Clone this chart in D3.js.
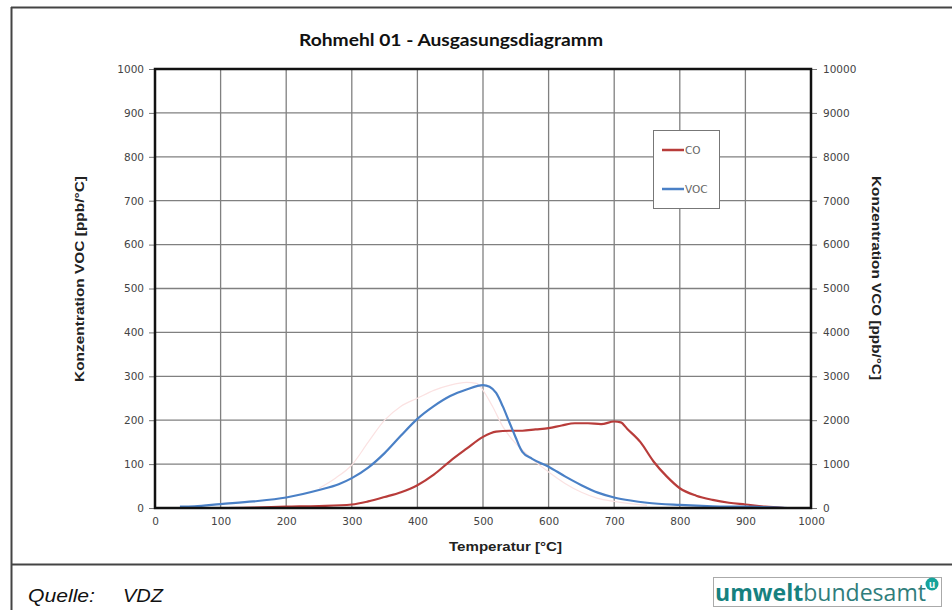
<!DOCTYPE html>
<head>
    <meta charset="utf-8">
    <script src="https://d3js.org/d3.v7.min.js"></script>
    <style>
        body { margin: 0; background: #fff; }
        text { font-family: "Liberation Sans", Arial, sans-serif; }
    </style>
</head>

<body>
    <div id="chart"></div>
</body>

<script>
    // temperature (°C) and readings
    const vocTemp = [38, 60, 100, 150, 200, 250, 280, 300, 325, 350, 375, 400, 425, 450, 475, 500, 510, 520, 530, 540, 550, 555, 560, 575, 600, 625, 650, 675, 700, 725, 750, 800, 850, 900, 950, 965];
    const vocVal  = [3, 4, 9, 15, 24, 41, 54, 68, 92, 125, 165, 203, 232, 255, 270, 280, 276, 262, 232, 196, 160, 142, 128, 112, 94, 72, 52, 35, 24, 17, 12, 7, 4, 3, 1, 0];

    const coTemp = [38, 100, 150, 200, 250, 300, 325, 350, 375, 400, 425, 450, 475, 500, 520, 540, 560, 580, 600, 620, 640, 660, 680, 700, 710, 720, 740, 760, 780, 800, 825, 850, 875, 900, 930, 960];
    const coVal  = [0, 0, 10, 30, 45, 80, 150, 250, 360, 520, 760, 1070, 1350, 1620, 1740, 1760, 1760, 1790, 1820, 1880, 1930, 1930, 1910, 1970, 1950, 1800, 1500, 1060, 720, 450, 280, 185, 120, 80, 30, 0];

    // faint trace visible behind the curves
    const ghostTemp = [250, 275, 300, 325, 350, 375, 400, 425, 450, 475, 490, 500, 515, 530, 545, 560, 580, 600, 625, 650, 675, 700, 750];
    const ghostVal  = [45, 68, 98, 150, 200, 232, 250, 268, 280, 286, 284, 268, 230, 186, 155, 132, 105, 82, 56, 36, 22, 15, 6];

    const yTicksLeft = d3.range(0, 1001, 100);
    const yTicksRight = d3.range(0, 10001, 1000);
    const xTicks = d3.range(0, 1001, 100);

    const W = 952, H = 610;
    const pL = 155, pR = 811, pT = 69, pB = 508;

    const svg = d3.select("#chart").append("svg")
        .attr("width", W).attr("height", H);

    // outer frame
    const frame = svg.append("g").attr("stroke", "#444").attr("stroke-width", 2);
    frame.append("line").attr("x1", 11).attr("x2", W).attr("y1", 7.5).attr("y2", 7.5);
    frame.append("line").attr("x1", 11.5).attr("x2", 11.5).attr("y1", 7).attr("y2", H);
    frame.append("line").attr("x1", 11).attr("x2", W).attr("y1", 564.5).attr("y2", 564.5);

    const x = d3.scaleLinear().domain([0, 1000]).range([pL, pR]);
    const yL = d3.scaleLinear().domain([0, 1000]).range([pB, pT]);
    const yR = d3.scaleLinear().domain([0, 10000]).range([pB, pT]);

    // grid
    svg.append("g").selectAll("line").data(xTicks.slice(1, -1)).join("line")
        .attr("x1", d => x(d)).attr("x2", d => x(d))
        .attr("y1", pT).attr("y2", pB)
        .attr("stroke", "#808080").attr("stroke-width", 1.3);
    svg.append("g").selectAll("line").data(yTicksLeft.slice(1, -1)).join("line")
        .attr("x1", pL).attr("x2", pR)
        .attr("y1", d => yL(d)).attr("y2", d => yL(d))
        .attr("stroke", "#808080").attr("stroke-width", 1.3);

    // axes
    const fmt = d3.format("d");
    const axL = svg.append("g").attr("transform", `translate(${pL},0)`)
        .call(d3.axisLeft(yL).tickValues(yTicksLeft).tickSize(6).tickPadding(5).tickFormat(fmt));
    const axR = svg.append("g").attr("transform", `translate(${pR},0)`)
        .call(d3.axisRight(yR).tickValues(yTicksRight).tickSize(6).tickPadding(6).tickFormat(fmt));
    const axB = svg.append("g").attr("transform", `translate(0,${pB})`)
        .call(d3.axisBottom(x).tickValues(xTicks).tickSize(0).tickPadding(10).tickFormat(fmt));
    [axL, axR, axB].forEach(a => {
        a.select(".domain").remove();
        a.selectAll("line").attr("stroke", "#777");
        a.selectAll("text").attr("fill", "#444")
            .style("font-family", "'DejaVu Sans', sans-serif").style("font-size", "10.5px");
    });

    // lines
    const line = (xs, ys, yScale) => d3.line().curve(d3.curveMonotoneX)
        .x((d, i) => x(xs[i])).y((d, i) => yScale(ys[i]))(xs);

    svg.append("path").attr("d", line(ghostTemp, ghostVal, yL))
        .attr("fill", "none").attr("stroke", "#fbe2e2").attr("stroke-width", 1.2);
    svg.append("path").attr("d", line(coTemp, coVal, yR))
        .attr("fill", "none").attr("stroke", "#b83c3a").attr("stroke-width", 2.2);
    svg.append("path").attr("d", line(vocTemp, vocVal, yL))
        .attr("fill", "none").attr("stroke", "#4a80c6").attr("stroke-width", 2.2);

    // plot frame
    svg.append("rect").attr("x", pL).attr("y", pT)
        .attr("width", pR - pL).attr("height", pB - pT)
        .attr("fill", "none").attr("stroke", "#111").attr("stroke-width", 2.5);

    // title and axis titles
    svg.append("text").attr("x", 299).attr("y", 46)
        .attr("textLength", 304).attr("lengthAdjust", "spacingAndGlyphs")
        .style("font-family", "Lato, 'Open Sans', sans-serif").style("font-weight", "bold")
        .style("font-size", "17px").attr("fill", "#111")
        .text("Rohmehl 01 - Ausgasungsdiagramm");
    svg.append("text").attr("transform", "translate(84,382) rotate(-90)")
        .attr("textLength", 206).attr("lengthAdjust", "spacingAndGlyphs")
        .style("font-weight", "bold").style("font-size", "12.5px")
        .attr("fill", "#222").text("Konzentration VOC [ppb/°C]");
    svg.append("text").attr("transform", "translate(872,176) rotate(90)")
        .attr("textLength", 204).attr("lengthAdjust", "spacingAndGlyphs")
        .style("font-weight", "bold").style("font-size", "12.5px")
        .attr("fill", "#222").text("Konzentration VCO [ppb/°C]");
    svg.append("text").attr("x", 449).attr("y", 551)
        .attr("textLength", 113).attr("lengthAdjust", "spacingAndGlyphs")
        .style("font-weight", "bold").style("font-size", "13px")
        .attr("fill", "#222").text("Temperatur [°C]");

    // legend
    const lg = svg.append("g");
    lg.append("rect").attr("x", 653.5).attr("y", 130.5).attr("width", 66).attr("height", 78)
        .attr("fill", "#fff").attr("stroke", "#777");
    [["CO", "#b83c3a", 150], ["VOC", "#4a80c6", 189]].forEach(([n, c, yy]) => {
        lg.append("line").attr("x1", 662).attr("x2", 684).attr("y1", yy).attr("y2", yy)
            .attr("stroke", c).attr("stroke-width", 2.5);
        lg.append("text").attr("x", 685).attr("y", yy + 3.5)
            .style("font-family", "'DejaVu Sans', sans-serif").style("font-size", "10.5px")
            .attr("fill", "#666").text(n);
    });

    // footer
    svg.append("text").attr("x", 28).attr("y", 602)
        .attr("textLength", 67).attr("lengthAdjust", "spacingAndGlyphs")
        .style("font-style", "italic").style("font-size", "18px").attr("fill", "#111").text("Quelle:");
    svg.append("text").attr("x", 123).attr("y", 602)
        .attr("textLength", 40).attr("lengthAdjust", "spacingAndGlyphs")
        .style("font-style", "italic").style("font-size", "18px").attr("fill", "#111").text("VDZ");

    const logo = svg.append("g");
    logo.append("rect").attr("x", 713.5).attr("y", 577.5).attr("width", 228).attr("height", 29)
        .attr("fill", "#fff").attr("stroke", "#aaa");
    const lt = logo.append("text").attr("x", 715).attr("y", 601)
        .attr("textLength", 211).attr("lengthAdjust", "spacingAndGlyphs")
        .style("font-family", "'Open Sans', 'Noto Sans', sans-serif").style("font-size", "23px");
    lt.append("tspan").style("font-weight", "bold").attr("fill", "#16817f").text("umwelt");
    lt.append("tspan").attr("fill", "#2f7d7b").text("bundesamt");
    logo.append("circle").attr("cx", 932).attr("cy", 584).attr("r", 6.5).attr("fill", "#16a39b");
    logo.append("text").attr("x", 932).attr("y", 588).attr("text-anchor", "middle")
        .style("font-size", "10px").style("font-weight", "bold").attr("fill", "#fff").text("u");
</script>
</html>
